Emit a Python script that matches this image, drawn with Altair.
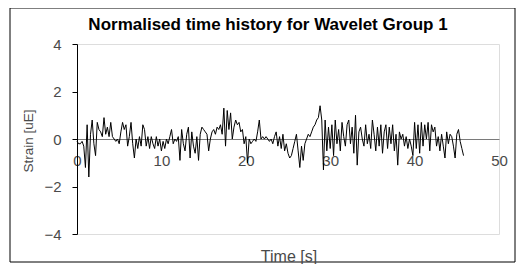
import altair as alt
import pandas as pd

title_text = "Normalised time history for Wavelet Group 1"
x_title = "Time [s]"
y_title = "Strain [uE]"
x_ticks = [0, 10, 20, 30, 40, 50]
y_ticks = [-4, -2, 0, 2, 4]
dt = 0.2

strain = [
    -0.1, -0.2, -0.2, -0.1, -0.3,
    -1.2, 0.6, -1.6, 0.2, 0.8,
    -0.2, -0.7, 0.7, 0.4, 0.3,
    0.1, 0.9, 0.2, 0.5, 0.1,
    0.7, 0.1, 0.0, -0.1, 0.0,
    -0.2, 0.3, 0.7, 0.4, 0.6,
    -0.3, 0.1, 0.7, -0.2, -0.8,
    0.0, -0.4, 0.1, -0.3, 0.6,
    0.4, -0.3, 0.1, -0.4, 0.1,
    -0.2, -0.4, 0.1, -0.3, 0.0,
    -0.5, -0.1, -0.4, 0.0, -0.2,
    0.1, 0.4, -0.2, 0.0, -0.1,
    0.1, -0.9, 0.4, -0.2, -0.5,
    0.2, 0.5, -0.8, 0.3, -0.3,
    -0.6, 0.1, -0.9, 0.2, 0.5,
    0.4, 0.3, 0.2, -0.5, 0.0,
    0.3, 0.4, 0.2, 0.5, 0.4,
    0.6, 0.2, 1.3, -0.3, 1.2,
    0.4, 1.1, 0.0, 0.5, 0.8,
    0.6, 0.7, 0.3, 0.4, -0.2,
    0.1, -1.0, 0.0, -0.2, -0.1,
    0.0, -0.1, 0.3, 0.8, 0.0,
    0.1, 0.0, 0.1, 0.0, -0.1,
    0.0, -0.2, 0.1, 0.3, -0.3,
    0.1, -0.4, 0.2, -0.5, -0.2,
    -0.6, -0.8, -0.7, -0.4, -0.1,
    0.2, -0.5, -1.2, -0.3, -0.9,
    -0.2, 0.0, 0.2, 0.1, 0.3,
    0.5, 0.6, 0.8, 0.9, 1.4,
    0.8, -1.3, 0.8, -0.5, 0.5,
    -0.4, 0.6, -0.7, 0.8, -0.2,
    0.4, -0.5, 0.7, 0.1, -0.3,
    0.6, 0.8, -0.2, 0.5, -0.6,
    1.0, -1.1, 0.3, 0.5, 0.0,
    -0.3, 0.6, -0.2, 0.2, -0.4,
    0.8, 0.2, -0.5, 0.5, -0.3,
    0.6, -0.6, 0.3, 0.6, -0.4,
    0.5, -0.2, 0.6, -0.5, 0.2,
    -1.1, 0.3, 0.0, 0.2, -0.3,
    0.1, -0.4, 0.0, -0.3, -0.7,
    0.7, -0.4, 0.6, -0.6, 0.7,
    -0.3, 0.6, 0.0, 0.7, -0.5,
    0.6, 0.3, 0.5, -0.3, 0.1,
    -0.5, 0.2, -0.3, -0.8, 0.3,
    -0.2, 0.2, 0.1, -0.3, -0.8,
    0.2, 0.4, -0.1, -0.4, -0.7,
]
times = [round(i * dt, 1) for i in range(len(strain))]

df = pd.DataFrame({"t": times, "v": strain})

W, H = 422, 190
FONT = "Liberation Sans"
GREY_TXT = "#4a4a4a"

xscale = alt.Scale(domain=[0, 50], nice=False)
yscale = alt.Scale(domain=[-4, 4], nice=False)

line = alt.Chart(df).mark_line(color="black", strokeWidth=1).encode(
    x=alt.X("t:Q", scale=xscale,
            axis=alt.Axis(values=x_ticks, title=None, grid=False, offset=-H / 2,
                          domainColor="#7a7a7a", ticks=False,
                          labelPadding=14, labelColor=GREY_TXT, labelFontSize=15,
                          labelFont=FONT, labelFlush=False, labelOverlap=False)),
    y=alt.Y("v:Q", scale=yscale,
            axis=alt.Axis(values=y_ticks, title=None, grid=False,
                          domainColor="black", tickColor="black", tickSize=5,
                          labelPadding=11, labelColor=GREY_TXT, labelFontSize=15,
                          labelFont=FONT)),
)

base = alt.Chart(pd.DataFrame({"k": [0]}))

border = base.mark_rect(fill=None, stroke="black", strokeWidth=1).encode(
    x=alt.value(-67), x2=alt.value(438), y=alt.value(-36), y2=alt.value(218)
)

title = base.mark_text(font=FONT, fontSize=17, fontWeight="bold", color="black",
                       baseline="middle", align="center").encode(
    x=alt.value(191), y=alt.value(-19), text=alt.value(title_text)
)

xtitle = base.mark_text(font=FONT, fontSize=16, color=GREY_TXT,
                        baseline="middle", align="center").encode(
    x=alt.value(212), y=alt.value(213), text=alt.value(x_title)
)

ytitle = base.mark_text(font=FONT, fontSize=13.5, color=GREY_TXT, angle=270,
                        baseline="middle", align="center").encode(
    x=alt.value(-48), y=alt.value(97), text=alt.value(y_title)
)

chart = alt.layer(line, border, title, xtitle, ytitle).properties(
    width=W, height=H,
    autosize=alt.AutoSizeParams(type="none"),
    padding={"left": 69, "top": 36, "right": 20, "bottom": 30},
).configure_view(stroke="#7a7a7a", strokeWidth=1).configure(background="white")

chart.save("out.html", embed_options={"renderer": "svg", "actions": False})
